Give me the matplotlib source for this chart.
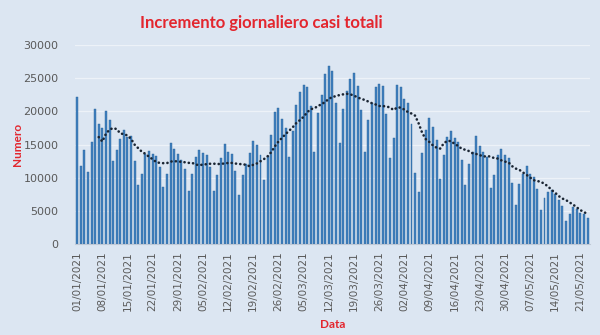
import matplotlib
matplotlib.use("Agg")
import matplotlib.pyplot as plt
import numpy as np
import pandas as pd

# Daily new cases, 1 Jan 2021 - 23 May 2021
jan = [22211, 11831, 14245, 10800, 15378, 20331, 18020, 17533, 19978, 18627,
       12532, 14242, 15774, 17246, 16146, 16310, 12545, 8824, 10497, 13571,
       14078, 13633, 13331, 11629, 8562, 10593, 15204, 14372, 13574, 12715, 11252]
feb = [7925, 10630, 13189, 14218, 13659, 13442, 11641, 7970, 10404, 12956,
       15146, 13908, 13532, 11068, 7351, 10386, 12074, 13762, 15479, 14931,
       13452, 9630, 13314, 16424, 19886, 20499, 18916, 17455]
mar = [13114, 17083, 20884, 22865, 24036, 23641, 20765, 13902, 19749, 22409,
       25673, 26824, 26062, 21315, 15267, 20396, 23059, 24935, 25735, 23832,
       20159, 13846, 18765, 21267, 23696, 24076, 23839, 19611, 12916, 16017, 23904]
apr = [23649, 21932, 21261, 18025, 10680, 7767, 13708, 17221, 18938, 17567,
       15746, 9789, 13447, 16168, 16974, 15943, 15370, 12694, 8864, 12074,
       13844, 16232, 14761, 13817, 13158, 8444, 10404, 13385, 14320, 13446]
may = [12965, 9148, 5948, 9116, 10585, 11807, 10554, 10176, 8292, 5080,
       6946, 7852, 8085, 7567, 6659, 5753, 3455, 4452, 5506, 5218,
       4717, 4500, 3900]

cases = jan + feb + mar + apr + may
dates = pd.date_range("2021-01-01", periods=len(cases), freq="D")
tick_labels = [d.strftime("%d/%m/%Y") for d in dates[::7]]
yticks = [0, 5000, 10000, 15000, 20000, 25000, 30000]

bg = "#DCE6F2"
red = "#E3262E"
grey = "#595959"

series = pd.Series(cases, index=dates)
ma7 = series.rolling(7).mean()

fig = plt.figure(figsize=(6, 3.35), dpi=100, facecolor=bg)
ax = fig.add_axes([0.125, 0.2716, 0.858, 0.594])
ax.set_facecolor(bg)

x = np.arange(len(cases))
ax.bar(x, cases, width=0.55, color="#3F80BF", edgecolor="#2D6499",
       linewidth=0.3, zorder=2)
ax.plot(x, ma7.values, color="#1A2533", linewidth=1.9,
        linestyle=(0, (0.05, 1.6)), dash_capstyle="round", zorder=3)

ax.set_xlim(-0.6, len(cases) - 0.4)
ax.set_ylim(0, 30000)
ax.set_yticks(yticks)
ax.set_yticklabels([str(v) for v in yticks], fontsize=8, color=grey)
ax.set_xticks(x[::7])
ax.set_xticklabels(tick_labels, rotation=90, fontsize=7.5, color=grey)
ax.tick_params(axis="y", length=0, pad=12)
ax.tick_params(axis="x", length=0, pad=5)
ax.grid(axis="y", color="#EDF2F8", linewidth=0.9, zorder=0)
for side in ["top", "right", "left"]:
    ax.spines[side].set_visible(False)
ax.spines["bottom"].set_color("#BFC9D6")
ax.spines["bottom"].set_linewidth(0.8)

ax.set_ylabel("Numero", color=red, fontsize=8.5, fontweight="bold",
              family="Lato", labelpad=0)
ax.set_xlabel("Data", color=red, fontsize=8.5, fontweight="bold",
              family="Lato", labelpad=6)
fig.text(0.435, 0.93, "Incremento giornaliero casi totali", color=red,
         fontsize=12, fontweight="bold", family="Lato",
         ha="center", va="center")

fig.savefig("out.png", dpi=100, facecolor=bg)
